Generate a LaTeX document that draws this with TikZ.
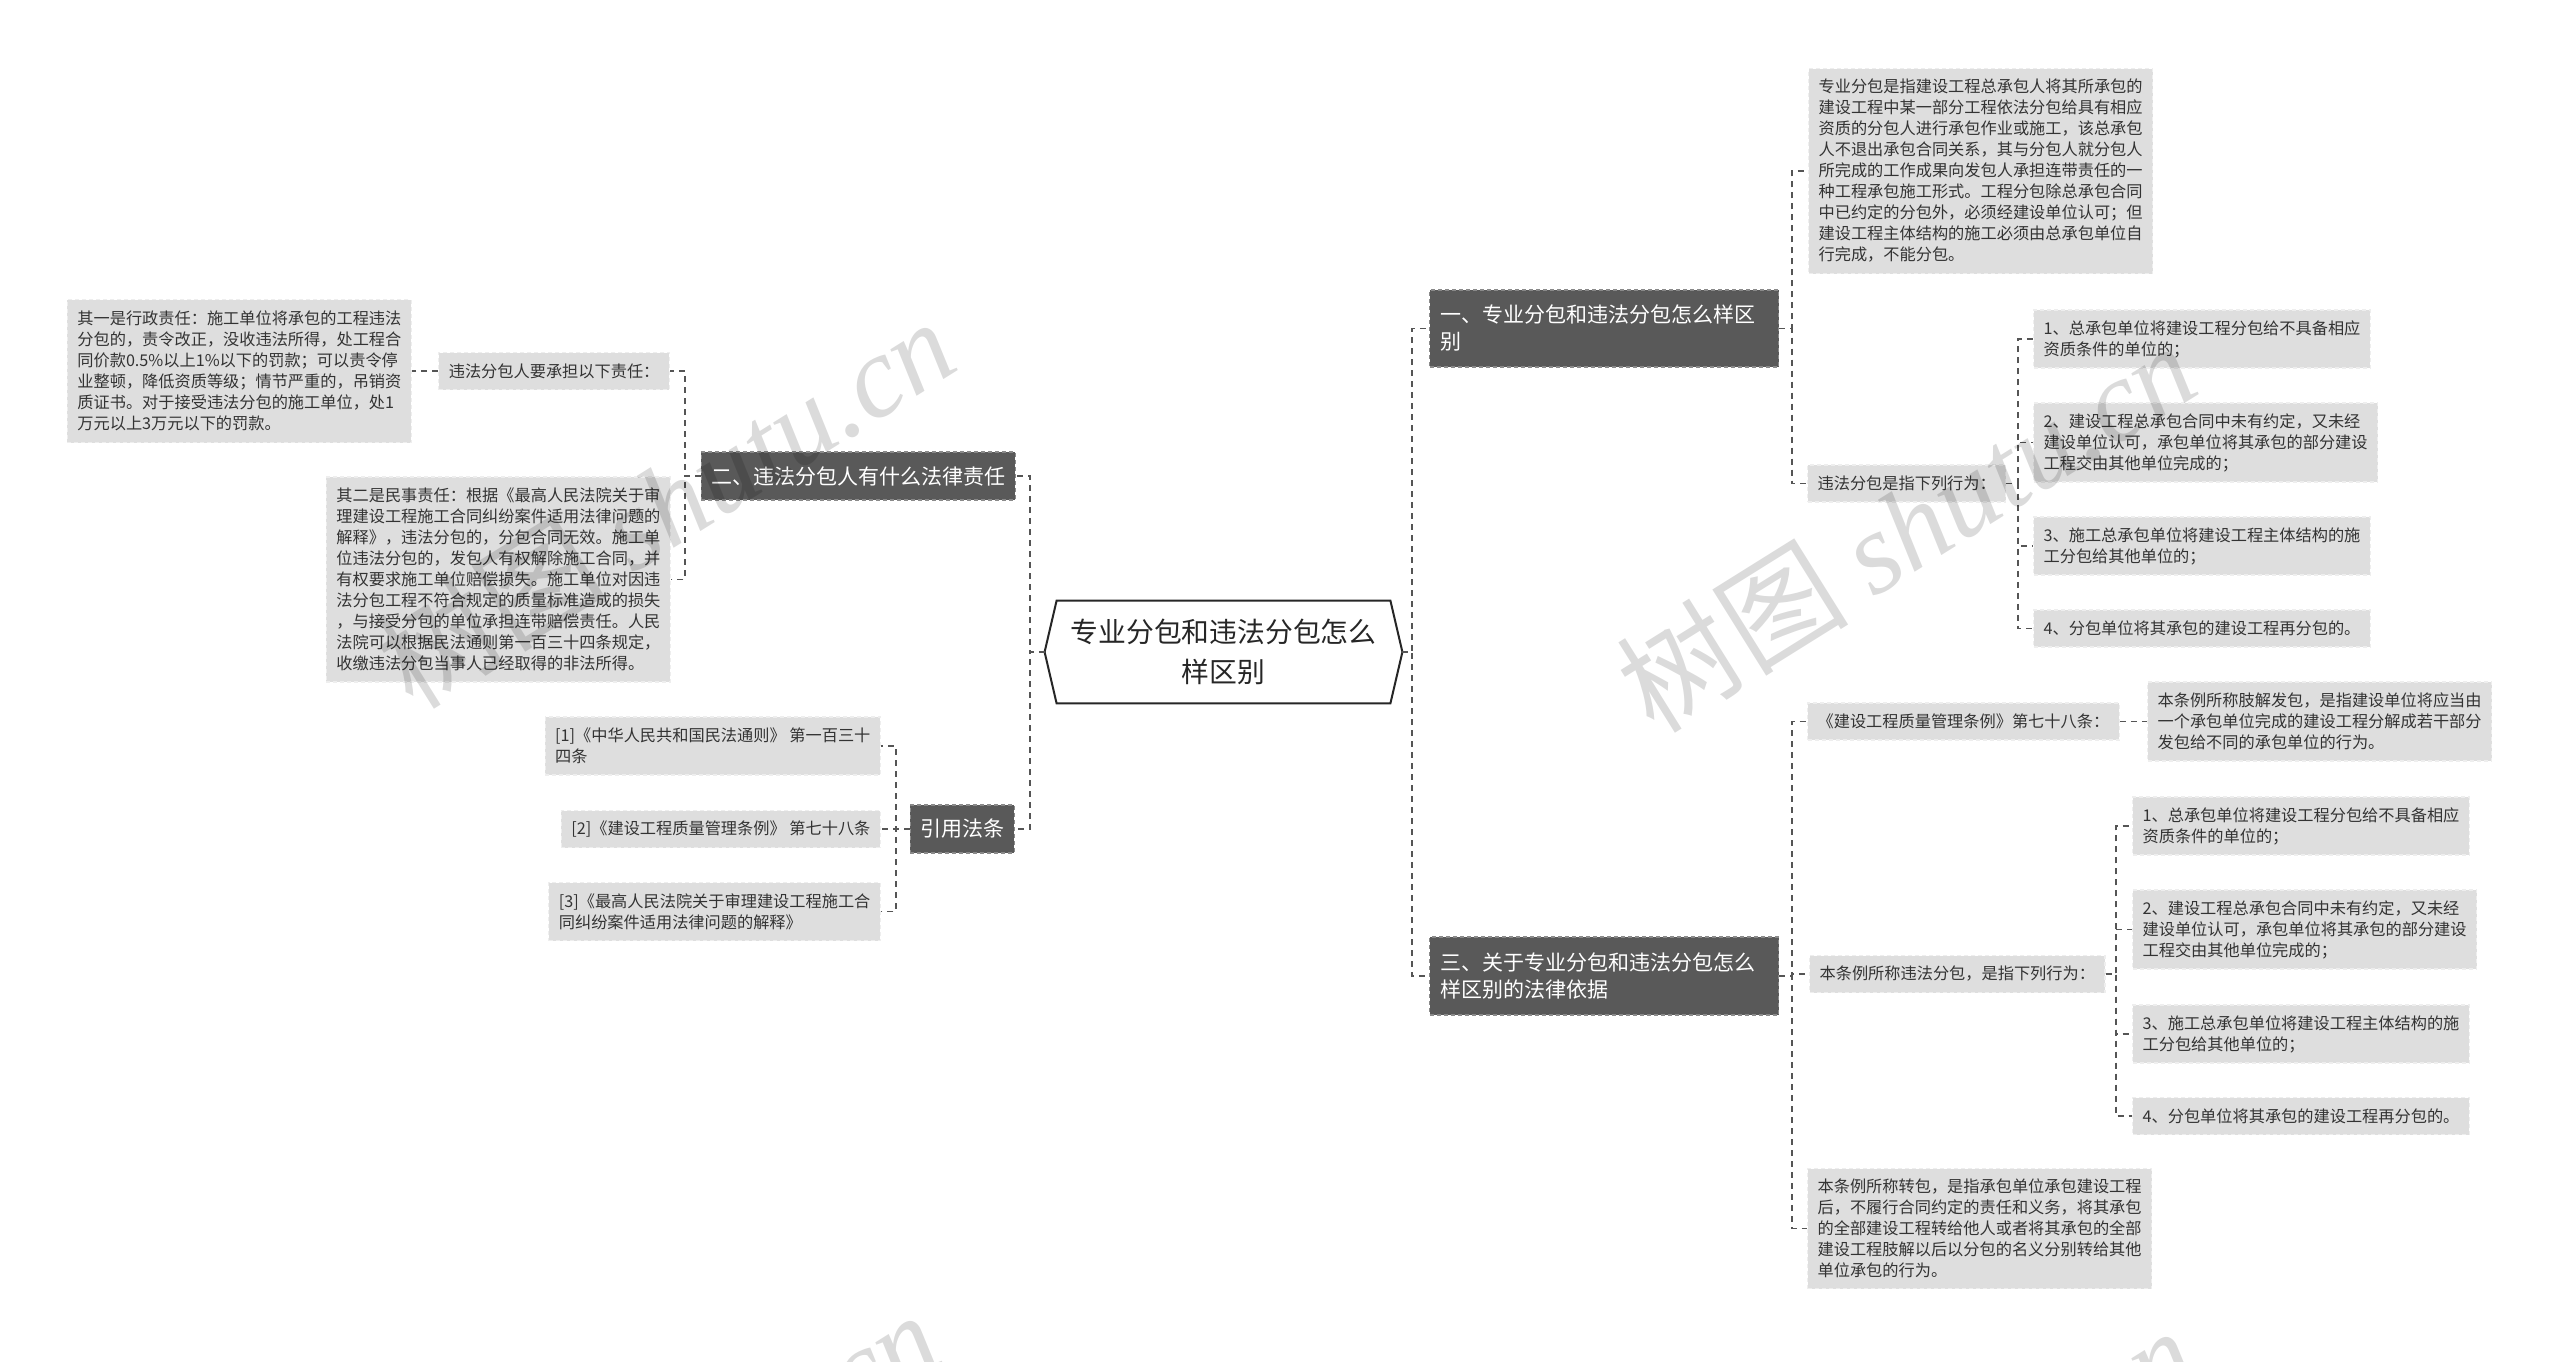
\documentclass[tikz,border=0pt]{standalone}
\usepackage{fontspec}
\setmainfont{Noto Sans CJK SC}
\newfontfamily\wmlatin{Liberation Serif}
\usetikzlibrary{calc}

\definecolor{darkbox}{HTML}{595959}
\definecolor{darkedge}{HTML}{8A8A8A}
\definecolor{lightbox}{HTML}{DEDEDE}
\definecolor{lightedge}{HTML}{EEEEEE}
\definecolor{txtgray}{HTML}{333333}
\definecolor{connc}{HTML}{555555}

\tikzset{
  leaf/.style={fill=lightbox, draw=lightedge, dash pattern=on 2pt off 1.5pt, line width=0.6pt,
    text=txtgray, font=\fontsize{8.1pt}{10.5pt}\selectfont, align=left,
    inner xsep=5pt, inner ysep=2pt},
  leafr/.style={leaf, anchor=west},
  leafl/.style={leaf, anchor=east},
  ln1/.style={minimum height=18.5pt},
  ln2/.style={minimum height=29pt},
  ln3/.style={minimum height=39.5pt},
  ln5/.style={minimum height=60pt},
  ln6/.style={minimum height=71.5pt},
  ln9/.style={minimum height=102.5pt},
  topic/.style={fill=darkbox, draw=darkedge, dash pattern=on 2pt off 1.5pt, line width=0.6pt,
    text=white, font=\fontsize{10.5pt}{13.5pt}\selectfont, align=left, inner xsep=5pt},
  conn/.style={draw=connc, line width=0.6pt, dash pattern=on 3pt off 2.5pt},
  hexline/.style={draw=black!85, line width=1pt},
  wmark/.style={text=black, text opacity=0.14, rotate=32, inner sep=0pt},
}

\begin{document}
\begin{tikzpicture}[x=0.5pt,y=-0.5pt]
\fill[white] (0,0) rectangle (2560,1361);
\useasboundingbox (0,0) rectangle (2560,1361);

% trunk x positions
\coordinate (tL) at (1030,0);
\coordinate (tR) at (1412,0);
\coordinate (t2) at (685,0);
\coordinate (t3) at (896,0);
\coordinate (t1) at (1792,0);
\coordinate (t1s) at (2018,0);
\coordinate (t4s) at (2116,0);

% central topic
\node[minimum width=178.5pt, minimum height=51pt, inner sep=0pt, align=center,
      text=black!85, font=\fontsize{13.9pt}{20pt}\selectfont] (c) at (1223.5,652)
      {专业分包和违法分包怎么\\样区别};
\draw[hexline] ([xshift=6pt]c.north west) -- ([xshift=-6pt]c.north east) -- (c.east)
  -- ([xshift=-6pt]c.south east) -- ([xshift=6pt]c.south west) -- (c.west) -- cycle;

% main topics
\node[topic, anchor=west, text width=163.5pt, inner xsep=5.5pt, minimum height=38.5pt] (b1) at (1429,328.5)
  {一、专业分包和违法分包怎么样区\\别};
\node[topic, anchor=west, text width=163.5pt, inner xsep=5.5pt, minimum height=39pt] (b4) at (1429,976)
  {三、关于专业分包和违法分包怎么\\样区别的法律依据};
\node[topic, anchor=east, minimum height=24pt] (b2) at (1016,476) {二、违法分包人有什么法律责任};
\node[topic, anchor=east, minimum height=24pt] (b3) at (1015,829) {引用法条};

% branch 1 leaves
\node[leafr, ln9] (top1) at (1808,171) {专业分包是指建设工程总承包人将其所承包的\\建设工程中某一部分工程依法分包给具有相应\\资质的分包人进行承包作业或施工，该总承包\\人不退出承包合同关系，其与分包人就分包人\\所完成的工作成果向发包人承担连带责任的一\\种工程承包施工形式。工程分包除总承包合同\\中已约定的分包外，必须经建设单位认可；但\\建设工程主体结构的施工必须由总承包单位自\\行完成，不能分包。};
\node[leafr, ln1] (l1) at (1807,483.5) {违法分包是指下列行为：};
\node[leafr, ln2] (i1a) at (2033,339) {1、总承包单位将建设工程分包给不具备相应\\资质条件的单位的；};
\node[leafr, ln3] (i1b) at (2033,442.5) {2、建设工程总承包合同中未有约定，又未经\\建设单位认可，承包单位将其承包的部分建设\\工程交由其他单位完成的；};
\node[leafr, ln2] (i1c) at (2033,546) {3、施工总承包单位将建设工程主体结构的施\\工分包给其他单位的；};
\node[leafr, ln1] (i1d) at (2033,628.5) {4、分包单位将其承包的建设工程再分包的。};

% branch 4 leaves
\node[leafr, ln1] (l4a) at (1807,721.5) {《建设工程质量管理条例》第七十八条：};
\node[leafr, ln3] (r4a) at (2147,721.5) {本条例所称肢解发包，是指建设单位将应当由\\一个承包单位完成的建设工程分解成若干部分\\发包给不同的承包单位的行为。};
\node[leafr, ln1] (l4b) at (1809,974) {本条例所称违法分包，是指下列行为：};
\node[leafr, ln2] (i4a) at (2132,826) {1、总承包单位将建设工程分包给不具备相应\\资质条件的单位的；};
\node[leafr, ln3] (i4b) at (2132,929.5) {2、建设工程总承包合同中未有约定，又未经\\建设单位认可，承包单位将其承包的部分建设\\工程交由其他单位完成的；};
\node[leafr, ln2] (i4c) at (2132,1034) {3、施工总承包单位将建设工程主体结构的施\\工分包给其他单位的；};
\node[leafr, ln1] (i4d) at (2132,1116) {4、分包单位将其承包的建设工程再分包的。};
\node[leafr, ln5] (l4c) at (1807,1228.5) {本条例所称转包，是指承包单位承包建设工程\\后，不履行合同约定的责任和义务，将其承包\\的全部建设工程转给他人或者将其承包的全部\\建设工程肢解以后以分包的名义分别转给其他\\单位承包的行为。};

% branch 2 leaves
\node[leafl, ln1] (l2a) at (670,371) {违法分包人要承担以下责任：};
\node[leafl, ln6] (l2b) at (412,371) {其一是行政责任：施工单位将承包的工程违法\\分包的，责令改正，没收违法所得，处工程合\\同价款0.5\%以上1\%以下的罚款；可以责令停\\业整顿，降低资质等级；情节严重的，吊销资\\质证书。对于接受违法分包的施工单位，处1\\万元以上3万元以下的罚款。};
\node[leafl, ln9] (l2c) at (671,579.5) {其二是民事责任：根据《最高人民法院关于审\\理建设工程施工合同纠纷案件适用法律问题的\\解释》，违法分包的，分包合同无效。施工单\\位违法分包的，发包人有权解除施工合同，并\\有权要求施工单位赔偿损失。施工单位对因违\\法分包工程不符合规定的质量标准造成的损失\\，与接受分包的单位承担连带赔偿责任。人民\\法院可以根据民法通则第一百三十四条规定，\\收缴违法分包当事人已经取得的非法所得。};

% branch 3 leaves
\node[leafl, ln2] (c1) at (881,746) {[1]《中华人民共和国民法通则》 第一百三十\\四条};
\node[leafl, ln1] (c2) at (881,829) {[2]《建设工程质量管理条例》 第七十八条};
\node[leafl, ln2] (c3) at (881,911.5) {[3]《最高人民法院关于审理建设工程施工合\\同纠纷案件适用法律问题的解释》};

% connectors
\draw[conn] (c.east) -- (c.east -| tR) |- (b1.west);
\draw[conn] (c.east) -- (c.east -| tR) |- (b4.west);
\draw[conn] (c.west) -- (c.west -| tL) |- (b2.east);
\draw[conn] (c.west) -- (c.west -| tL) |- (b3.east);

\draw[conn] (b1.east) -- (b1.east -| t1) |- (top1.west);
\draw[conn] (b1.east) -- (b1.east -| t1) |- (l1.west);
\foreach \n in {i1a,i1b,i1c,i1d}
  \draw[conn] (l1.east) -- (l1.east -| t1s) |- (\n.west);

\draw[conn] (b4.east) -- (b4.east -| t1) |- (l4a.west);
\draw[conn] (b4.east) -- (b4.east -| t1) |- (l4b.west);
\draw[conn] (b4.east) -- (b4.east -| t1) |- (l4c.west);
\draw[conn] (l4a.east) -- (r4a.west);
\foreach \n in {i4a,i4b,i4c,i4d}
  \draw[conn] (l4b.east) -- (l4b.east -| t4s) |- (\n.west);

\draw[conn] (b2.west) -- (b2.west -| t2) |- (l2a.east);
\draw[conn] (b2.west) -- (b2.west -| t2) |- (l2c.east);
\draw[conn] (l2a.west) -- (l2b.east);

\foreach \n in {c1,c2,c3}
  \draw[conn] (b3.west) -- (b3.west -| t3) |- (\n.east);

% watermarks
\begin{scope}
\clip (0,0) rectangle (2560,1361);
\node[wmark, font=\fontsize{58pt}{60pt}\selectfont] (wm1) at (1906,526) {树图 {\wmlatin\itshape shutu.cn}};
\node[wmark, font=\fontsize{58pt}{60pt}\selectfont] (wm2) at (665,502) {树图 {\wmlatin\itshape shutu.cn}};
\node[wmark, font=\fontsize{58pt}{60pt}\selectfont] (wm3) at (1906,1511) {树图 {\wmlatin\itshape shutu.cn}};
\node[wmark, font=\fontsize{58pt}{60pt}\selectfont] (wm4) at (650,1495) {树图 {\wmlatin\itshape shutu.cn}};
\end{scope}
\end{tikzpicture}
\end{document}
